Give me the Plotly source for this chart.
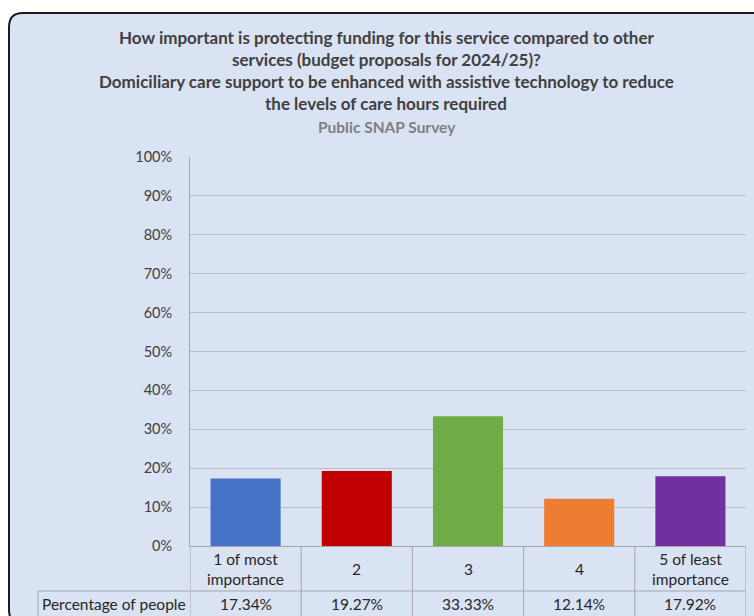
import plotly.graph_objects as go

categories = ["1 of most<br>importance", "2", "3", "4", "5 of least<br>importance"]
values = [17.34, 19.27, 33.33, 12.14, 17.92]
colors = ["#4472c4", "#c00000", "#70ad47", "#ed7d31", "#7030a0"]
row_label = "Percentage of people"
title_lines = [
    "How important is protecting funding for this service compared to other",
    "services (budget proposals for 2024/25)?",
    "Domiciliary care support to be enhanced with assistive technology to reduce",
    "the levels of care hours required",
]
subtitle = "Public SNAP Survey"

W, H = 754, 616
FONT = "Lato"
TXT = "#404040"
GRID = "#bfbfbf"
BG = "#dae3f3"

def px(x):
    return x / W

def py(y):
    return (H - y) / H

plot_l, plot_r, plot_t, plot_b = 190, 746, 157, 546
row_mid = 591
lab_l = 38

x_idx = list(range(len(categories)))

fig = go.Figure()
fig.add_trace(go.Bar(
    x=x_idx, y=values, marker=dict(color=colors, line=dict(width=0)),
    width=0.63, hoverinfo="skip", showlegend=False,
))

shapes = []
r = 14
x0, y0, x1, y1 = 9, 13, 766, 624
path = (f"M {px(x0)},{py(y0 + r)} "
        f"Q {px(x0)},{py(y0)} {px(x0 + r)},{py(y0)} "
        f"L {px(x1 - r)},{py(y0)} "
        f"Q {px(x1)},{py(y0)} {px(x1)},{py(y0 + r)} "
        f"L {px(x1)},{py(y1 - r)} "
        f"Q {px(x1)},{py(y1)} {px(x1 - r)},{py(y1)} "
        f"L {px(x0 + r)},{py(y1)} "
        f"Q {px(x0)},{py(y1)} {px(x0)},{py(y1 - r)} Z")
shapes.append(dict(type="path", xref="paper", yref="paper", path=path,
                   fillcolor=BG, line=dict(color="#1a1a1a", width=2), layer="below"))

n = len(categories)
for k in range(n + 1):
    shapes.append(dict(type="line", xref="x", yref="paper",
                       x0=k - 0.5, x1=k - 0.5, y0=py(plot_b), y1=py(630),
                       line=dict(color="#a6a6a6", width=1)))
shapes.append(dict(type="line", xref="paper", yref="paper",
                   x0=px(lab_l), x1=px(lab_l), y0=py(row_mid), y1=py(630),
                   line=dict(color="#a6a6a6", width=1)))
shapes.append(dict(type="line", xref="paper", yref="paper",
                   x0=px(lab_l), x1=px(plot_r), y0=py(row_mid), y1=py(row_mid),
                   line=dict(color="#a6a6a6", width=1)))

annotations = []
ty = [38, 60, 82, 104]
for t, yy in zip(title_lines, ty):
    annotations.append(dict(text=f"<b>{t}</b>", x=px(386), y=py(yy), xref="paper", yref="paper",
                            showarrow=False, xanchor="center", yanchor="middle",
                            font=dict(family=FONT, size=17, color=TXT)))
annotations.append(dict(text=f"<b>{subtitle}</b>", x=px(387), y=py(127), xref="paper", yref="paper",
                        showarrow=False, xanchor="center", yanchor="middle",
                        font=dict(family=FONT, size=15.5, color="#7f7f7f")))

TF = 15.5
for i, (c, v) in enumerate(zip(categories, values)):
    annotations.append(dict(text=c, x=i, y=py((plot_b + row_mid) / 2), xref="x", yref="paper",
                            showarrow=False, xanchor="center", yanchor="middle",
                            font=dict(family=FONT, size=TF, color="#262626")))
    annotations.append(dict(text=f"{v:.2f}%", x=i, y=py(604), xref="x", yref="paper",
                            showarrow=False, xanchor="center", yanchor="middle",
                            font=dict(family=FONT, size=TF, color="#262626")))
annotations.append(dict(text=row_label, x=px(lab_l + 2), y=py(604), xref="paper", yref="paper",
                        showarrow=False, xanchor="left", yanchor="middle",
                        font=dict(family=FONT, size=TF, color="#262626")))

fig.update_layout(
    width=W, height=H,
    margin=dict(l=0, r=0, t=0, b=0, pad=0, autoexpand=False),
    paper_bgcolor="white",
    plot_bgcolor="white",
    shapes=shapes,
    annotations=annotations,
    xaxis=dict(domain=[px(plot_l), px(plot_r)], range=[-0.5, n - 0.5], automargin=False,
               showticklabels=False, showgrid=False, zeroline=False,
               showline=True, linecolor="#a6a6a6", linewidth=1, fixedrange=True),
    yaxis=dict(domain=[py(plot_b), py(plot_t)], range=[0, 100], dtick=10, automargin=False,
               ticksuffix="%", showgrid=True, gridcolor=GRID, gridwidth=1,
               zeroline=False, showline=True, linecolor="#a6a6a6", linewidth=1,
               ticks="", ticklabelstandoff=14,
               tickfont=dict(family=FONT, size=14.5, color=TXT), fixedrange=True),
)

fig.write_html(
    "out.html",
    config={"displayModeBar": False, "staticPlot": True},
    post_script="document.body.style.margin='0';document.body.style.overflow='hidden';"
                "document.documentElement.style.overflow='hidden';",
)
